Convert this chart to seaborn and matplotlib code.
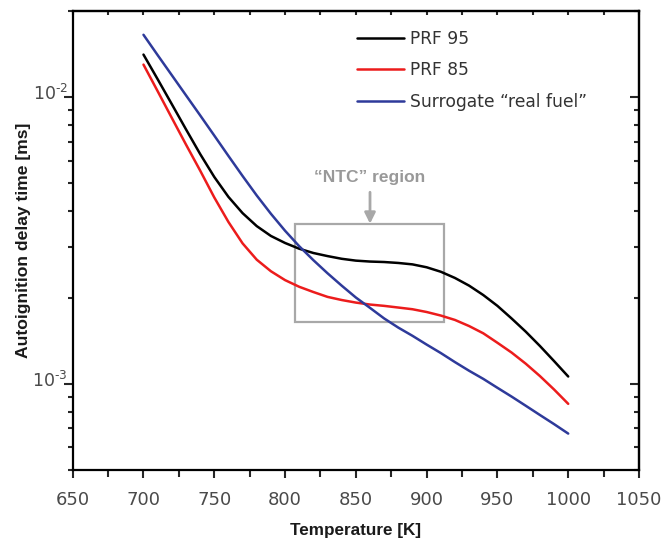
import numpy as np
import pandas as pd
import matplotlib
matplotlib.use("Agg")
import matplotlib.pyplot as plt
import matplotlib.transforms as mtransforms
import seaborn as sns
from matplotlib.ticker import LogLocator, NullFormatter, MultipleLocator, FixedLocator, FuncFormatter
from matplotlib.patches import Rectangle

# ---------------- data ----------------
temperature = [700, 710, 720, 730, 740, 750, 760, 770, 780, 790, 800,
               810, 820, 830, 840, 850, 860, 870, 880, 890, 900,
               910, 920, 930, 940, 950, 960, 970, 980, 990, 1000]
prf95 = [1.409e-2, 1.156e-2, 9.46e-3, 7.73e-3, 6.34e-3, 5.27e-3, 4.49e-3, 3.94e-3,
         3.55e-3, 3.28e-3, 3.10e-3, 2.96e-3, 2.86e-3, 2.79e-3, 2.73e-3, 2.69e-3,
         2.67e-3, 2.66e-3, 2.64e-3, 2.61e-3, 2.55e-3, 2.46e-3, 2.34e-3, 2.20e-3,
         2.04e-3, 1.87e-3, 1.69e-3, 1.52e-3, 1.355e-3, 1.20e-3, 1.06e-3]
prf85 = [1.30e-2, 1.05e-2, 8.47e-3, 6.84e-3, 5.55e-3, 4.47e-3, 3.67e-3, 3.09e-3,
         2.71e-3, 2.47e-3, 2.30e-3, 2.18e-3, 2.09e-3, 2.01e-3, 1.96e-3, 1.92e-3,
         1.89e-3, 1.87e-3, 1.845e-3, 1.82e-3, 1.78e-3, 1.73e-3, 1.67e-3, 1.59e-3,
         1.50e-3, 1.39e-3, 1.285e-3, 1.175e-3, 1.064e-3, 9.55e-4, 8.51e-4]
surrogate = [1.652e-2, 1.403e-2, 1.194e-2, 1.016e-2, 8.65e-3, 7.35e-3, 6.24e-3, 5.31e-3,
             4.54e-3, 3.92e-3, 3.42e-3, 3.02e-3, 2.70e-3, 2.43e-3, 2.20e-3, 2.00e-3,
             1.84e-3, 1.69e-3, 1.57e-3, 1.47e-3, 1.37e-3, 1.28e-3, 1.19e-3, 1.11e-3,
             1.04e-3, 9.68e-4, 9.02e-4, 8.38e-4, 7.78e-4, 7.23e-4, 6.70e-4]
series_names = ["PRF 95", "PRF 85", "Surrogate \u201creal fuel\u201d"]
series_colors = ["#000000", "#ec1c1c", "#2e3a9a"]
x_ticks = [650, 700, 750, 800, 850, 900, 950, 1000, 1050]
x_label = "Temperature [K]"
y_label = "Autoignition delay time [ms]"
annotation_text = "\u201cNTC\u201d region"

df = pd.concat([
    pd.DataFrame({"T": temperature, "tau": vals, "fuel": name})
    for name, vals in zip(series_names, [prf95, prf85, surrogate])
], ignore_index=True)

# ---------------- figure ----------------
sns.set_style("ticks")
plt.rcParams["font.family"] = ["DejaVu Sans"]
plt.rcParams["mathtext.fontset"] = "dejavusans"

W, H = 661, 539
fig = plt.figure(figsize=(W / 100, H / 100), dpi=100)
L, R, T, B = 72.7, 639.0, 11.0, 470.0
ax = fig.add_axes([L / W, 1 - B / H, (R - L) / W, (B - T) / H])

sns.lineplot(data=df, x="T", y="tau", hue="fuel", palette=dict(zip(series_names, series_colors)),
             linewidth=1.8, ax=ax, legend=True, sort=False)

ax.set_yscale("log")
ax.set_xlim(650, 1050)
ax.set_ylim(5e-4, 2e-2)

ax.xaxis.set_major_locator(FixedLocator(x_ticks))
ax.xaxis.set_minor_locator(MultipleLocator(25))
ax.yaxis.set_major_locator(LogLocator(base=10))
ax.yaxis.set_minor_locator(LogLocator(base=10, subs=np.arange(2, 10)))
ax.yaxis.set_minor_formatter(NullFormatter())
ax.yaxis.set_major_formatter(FuncFormatter(
    lambda v, p: "$10^{\u2010%d}$" % round(-np.log10(v))))

for s in ax.spines.values():
    s.set_linewidth(1.6)
    s.set_color("black")
    s.set_visible(True)

tick_col = "#4a4a4a"
ax.tick_params(axis="x", which="major", direction="out", length=6, width=1.5, pad=9,
               labelsize=13, labelcolor=tick_col, top=False)
ax.tick_params(axis="x", which="minor", direction="out", length=5, width=1.5, top=False)
ax.tick_params(axis="y", which="major", direction="out", length=6.5, width=1.5, pad=-3,
               labelsize=12.5, labelcolor=tick_col, right=False)
ax.tick_params(axis="y", which="minor", direction="out", length=3.5, width=1.5, right=False)

# mirrored inward ticks on top and right
secx = ax.secondary_xaxis("top")
secx.xaxis.set_major_locator(FixedLocator(x_ticks))
secx.xaxis.set_minor_locator(MultipleLocator(25))
secx.tick_params(which="both", direction="in", length=3, width=1.5, labeltop=False)
secx.spines["top"].set_linewidth(1.6)

secy = ax.secondary_yaxis("right")
secy.yaxis.set_major_locator(LogLocator(base=10))
secy.yaxis.set_minor_locator(LogLocator(base=10, subs=np.arange(2, 10)))
secy.yaxis.set_minor_formatter(NullFormatter())
secy.tick_params(which="major", direction="in", length=6.5, width=1.5, labelright=False)
secy.tick_params(which="minor", direction="in", length=3.5, width=1.5, labelright=False)
secy.spines["right"].set_linewidth(1.6)

ax.set_xlabel(x_label, fontsize=12.3, fontweight="bold", family="Liberation Sans", color="#1a1a1a")
ax.set_ylabel(y_label, fontsize=12.6, fontweight="bold", family="Liberation Sans", color="#1a1a1a")
ax.xaxis.set_label_coords(0.5, (B - 523) / (B - T))
ax.yaxis.set_label_coords((31 - L) / (R - L), 0.5)

# NTC region box and arrow
box_col = "#a8a8a8"
ax.add_patch(Rectangle((807, 1.64e-3), 105.4, 3.62e-3 - 1.64e-3, fill=False,
                       edgecolor=box_col, linewidth=1.6, zorder=1))
ax.annotate("", xy=(860, 3.62e-3), xytext=(860, 4.66e-3),
            arrowprops=dict(arrowstyle="-|>", color=box_col, lw=2, mutation_scale=16,
                            shrinkA=0, shrinkB=0))
ax.text(860, 5.25e-3, annotation_text, ha="center", va="center", fontsize=12.5,
        fontweight="bold", family="Liberation Sans", color="#999999")

# legend
handles, labels = ax.get_legend_handles_labels()
leg = ax.legend(handles, labels, loc="upper left", bbox_to_anchor=(356.7 / W, 1 - 30 / H),
                bbox_transform=fig.transFigure, frameon=False, borderpad=0, borderaxespad=0,
                handlelength=2.75, handletextpad=0.35, labelspacing=0.78,
                prop={"family": "DejaVu Sans", "size": 12.3})
for t in leg.get_texts():
    t.set_color("#333333")
for h in leg.get_lines():
    h.set_linewidth(1.8)

fig.canvas.draw()
shift = mtransforms.ScaledTranslation(0, -3 / 100, fig.dpi_scale_trans)
for t in ax.yaxis.get_major_ticks():
    t.label1.set_verticalalignment("baseline")
    t.label1.set_transform(t.label1.get_transform() + shift)

fig.savefig("out.png", dpi=100)
